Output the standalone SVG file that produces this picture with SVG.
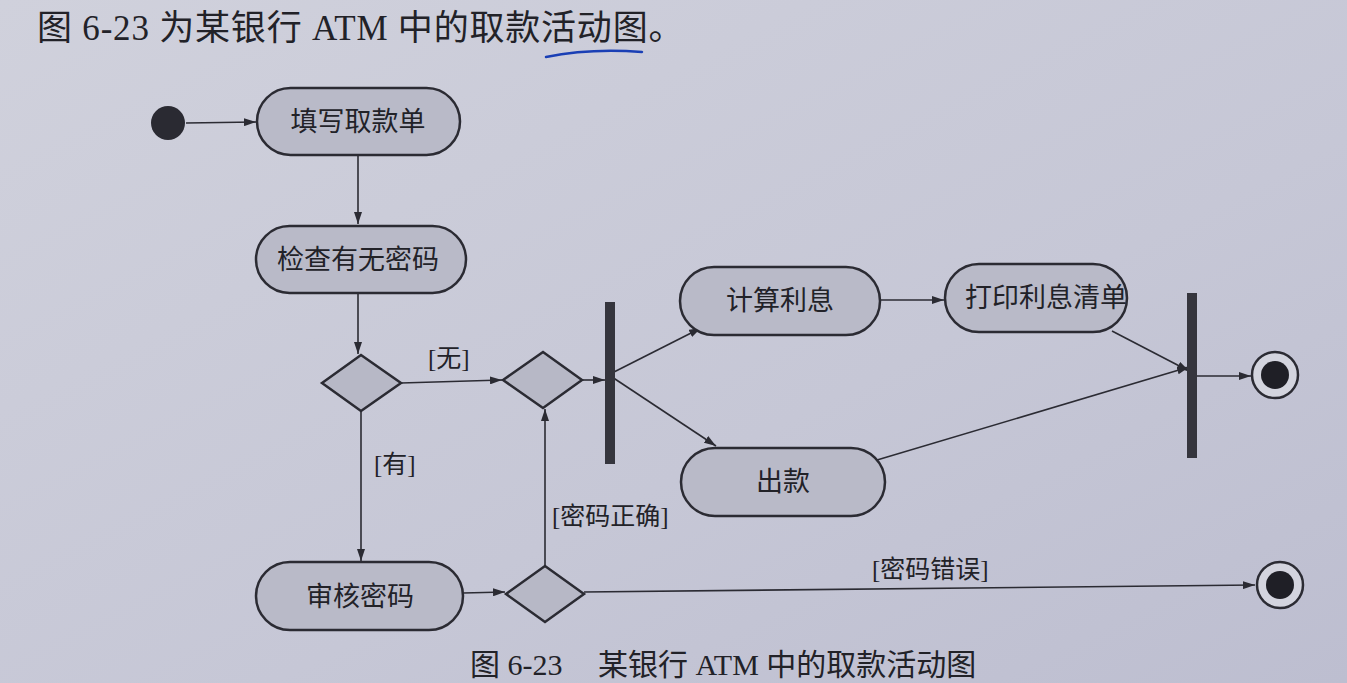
<svg xmlns="http://www.w3.org/2000/svg" width="1347" height="683" viewBox="0 0 1347 683">
<defs>
<linearGradient id="bg" x1="0" y1="0" x2="1" y2="1">
<stop offset="0" stop-color="#d0d1dc"/>
<stop offset="0.6" stop-color="#c6c7d6"/>
<stop offset="1" stop-color="#bdbed0"/>
</linearGradient>
<marker id="arr" viewBox="0 0 12 8" refX="12" refY="4" markerWidth="12" markerHeight="8" markerUnits="userSpaceOnUse" orient="auto">
<path d="M0,0 L12,4 L0,8 Z" fill="#2b2b33"/>
</marker>
<style>
.pill{fill:#b9bac8;stroke:#2b2b33;stroke-width:2.5}
.dia{fill:#b7b8c6;stroke:#2b2b33;stroke-width:2.5}
.bar{fill:#35353d}
.t{font-family:"Liberation Serif","Noto Sans CJK SC",serif;fill:#222228}
.nt{font-size:27px;text-anchor:middle}
.lb{font-size:25px}
.edge{stroke:#2b2b33;stroke-width:1.6;fill:none;marker-end:url(#arr)}
</style>
</defs>
<rect width="1347" height="683" fill="url(#bg)"/>
<text class="t" x="37" y="40" font-size="35" letter-spacing="0.8">图 6-23 为某银行 ATM 中的取款活动图。</text>
<path d="M546,57 Q590,48 642,52" stroke="#1a3fb5" stroke-width="2.5" fill="none" stroke-linecap="round"/>

<g id="connectors">
<line class="edge" x1="186" y1="123" x2="256" y2="122"/>
<line class="edge" x1="358" y1="155" x2="358" y2="224"/>
<line class="edge" x1="358" y1="293" x2="358" y2="354"/>
<line class="edge" x1="401" y1="383" x2="502" y2="380"/>
<line class="edge" x1="582" y1="380" x2="605" y2="380"/>
<line class="edge" x1="361" y1="411" x2="361" y2="561"/>
<line class="edge" x1="463" y1="593" x2="505" y2="592"/>
<line class="edge" x1="545" y1="566" x2="545" y2="409"/>
<line class="edge" x1="584" y1="592" x2="1255" y2="585"/>
<line class="edge" x1="612" y1="373" x2="701" y2="328"/>
<line class="edge" x1="612" y1="377" x2="716" y2="446"/>
<line class="edge" x1="880" y1="300" x2="944" y2="300"/>
<line class="edge" x1="1112" y1="331" x2="1189" y2="371"/>
<line class="edge" x1="877" y1="460" x2="1189" y2="367"/>
<line class="edge" x1="1197" y1="376" x2="1251" y2="376"/>
<text class="t lb" x="428" y="367">[无]</text>
<text class="t lb" x="374" y="473">[有]</text>
<text class="t lb" x="552" y="525">[密码正确]</text>
<text class="t lb" x="872" y="578">[密码错误]</text>
</g>

<g id="start"><circle cx="168" cy="123" r="17" fill="#2a2a32"/></g>
<g id="fill-form"><rect class="pill" x="257" y="88" width="203" height="67" rx="33.5"/><text class="t nt" x="358" y="131">填写取款单</text></g>
<g id="check-pwd"><rect class="pill" x="256" y="226" width="210" height="67" rx="33.5"/><text class="t nt" x="358" y="269">检查有无密码</text></g>
<g id="decision1"><polygon class="dia" points="322,383 361,355 401,383 361,411"/></g>
<g id="merge"><polygon class="dia" points="503,380 543,352 582,380 543,408"/></g>
<g id="fork"><rect class="bar" x="605" y="302" width="10" height="162"/></g>
<g id="verify-pwd"><rect class="pill" x="256" y="562" width="207" height="68" rx="34"/><text class="t nt" x="360" y="606">审核密码</text></g>
<g id="decision2"><polygon class="dia" points="506,594 545,566 584,594 545,622"/></g>
<g id="calc-interest"><rect class="pill" x="680" y="267" width="200" height="68" rx="34"/><text class="t nt" x="780" y="310">计算利息</text></g>
<g id="print-interest"><rect class="pill" x="945" y="264" width="182" height="68" rx="34"/><text class="t nt" x="1046" y="307">打印利息清单</text></g>
<g id="dispense"><rect class="pill" x="681" y="448" width="204" height="68" rx="34"/><text class="t nt" x="783" y="491">出款</text></g>
<g id="join"><rect class="bar" x="1187" y="293" width="10" height="165"/></g>
<g id="end1"><circle cx="1275" cy="375" r="23" fill="#d3d4de" stroke="#2b2b33" stroke-width="2.5"/><circle cx="1275" cy="375" r="14" fill="#1f1f26"/></g>
<g id="end2"><circle cx="1280" cy="585" r="23" fill="#d3d4de" stroke="#2b2b33" stroke-width="2.5"/><circle cx="1280" cy="585" r="14" fill="#1f1f26"/></g>

<text class="t" y="675" font-size="30"><tspan x="470">图 6-23</tspan><tspan x="598">某银行 ATM 中的取款活动图</tspan></text>
</svg>
